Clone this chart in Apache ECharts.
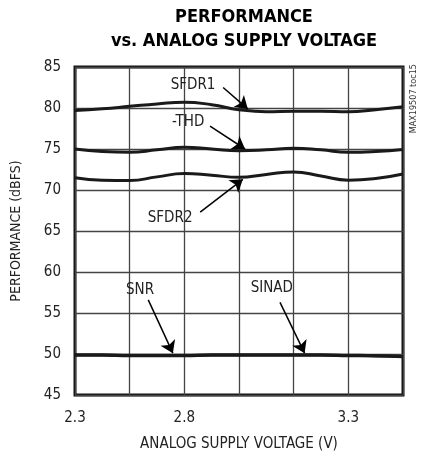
<!DOCTYPE html>
<html>
<head>
<meta charset="utf-8">
<script src="https://cdn.jsdelivr.net/npm/echarts@6/dist/echarts.min.js"></script>
<style>
  html, body { margin: 0; padding: 0; background: #fff; }
  #main { width: 427px; height: 458px; }
</style>
</head>
<body>
<div id="main"></div>
<script>
// x positions are in grid steps (0..6), labels only on some of them
let xPos = [0, 0.5, 1, 1.5, 2, 2.5, 3, 3.5, 4, 4.5, 5, 5.5, 6];
let xTickLabels = ['2.3', '', '2.8', '', '', '3.3', ''];
let yTicks = [45, 50, 55, 60, 65, 70, 75, 80, 85];

let sfdr1 = [79.7, 79.9, 80.2, 80.5, 80.7, 80.4, 79.8, 79.55, 79.6, 79.6, 79.55, 79.8, 80.15];
let thd   = [75.0, 74.7, 74.6, 74.9, 75.2, 75.0, 74.8, 74.9, 75.1, 74.9, 74.6, 74.7, 74.95];
let sfdr2 = [71.5, 71.2, 71.15, 71.6, 72.0, 71.8, 71.55, 71.9, 72.2, 71.7, 71.2, 71.4, 71.95];
let snr   = [49.9, 49.9, 49.85, 49.85, 49.85, 49.9, 49.9, 49.9, 49.9, 49.9, 49.85, 49.8, 49.7];
let sinad = [49.85, 49.85, 49.8, 49.8, 49.8, 49.85, 49.85, 49.85, 49.85, 49.85, 49.8, 49.75, 49.65];

let font = '"Liberation Sans Narrow", "DejaVu Sans Condensed", Arial, sans-serif';

function pairs(ys) {
    return xPos.map((x, i) => [x, ys[i]]);
}

// annotation: label position, arrow start, arrow tip (data coords)
function note(text, lx, ly, ax, ay, bx, by) {
    return {
        markPoint: {
            symbol: 'rect',
            symbolSize: 0,
            silent: true,
            label: { show: true, formatter: text, color: '#222', fontSize: 15, fontFamily: font, position: 'inside' },
            data: [{ coord: [lx, ly] }]
        },
        markLine: {
            silent: true,
            animation: false,
            symbol: ['none', 'arrow'],
            symbolSize: 12,
            lineStyle: { color: '#000', width: 1.5, type: 'solid' },
            itemStyle: { color: '#000' },
            label: { show: false },
            data: [[{ coord: [ax, ay] }, { coord: [bx, by] }]]
        }
    };
}

function line(name, ys, extra) {
    return Object.assign({
        name: name,
        type: 'line',
        smooth: 0.5,
        symbol: 'none',
        lineStyle: { color: '#1a1a1a', width: 3 },
        data: pairs(ys),
        z: 3
    }, extra || {});
}

let myChart = echarts.init(document.getElementById('main'));
let option = {
    animation: false,
    title: {
        text: 'PERFORMANCE\nvs. ANALOG SUPPLY VOLTAGE',
        left: 239,
        top: 0,
        textAlign: 'center',
        textStyle: { fontFamily: font, fontWeight: 'bold', fontSize: 18, lineHeight: 24, color: '#000' }
    },
    grid: {
        left: 75, right: 24, top: 67, bottom: 63,
        show: true, borderColor: '#111', borderWidth: 3
    },
    xAxis: {
        type: 'value',
        min: 0, max: 6, interval: 1,
        axisLine: { show: false },
        axisTick: { show: false },
        splitLine: { show: true, lineStyle: { color: '#444', width: 1.3 } },
        axisLabel: {
            color: '#222', fontSize: 15, fontFamily: font, margin: 16,
            formatter: v => xTickLabels[Math.round(v)] || ''
        },
        name: 'ANALOG SUPPLY VOLTAGE (V)',
        nameLocation: 'middle',
        nameGap: 42,
        nameTextStyle: { color: '#222', fontSize: 15, fontFamily: font }
    },
    yAxis: {
        type: 'value',
        min: yTicks[0], max: yTicks[yTicks.length - 1], interval: 5,
        axisLine: { show: false },
        axisTick: { show: false },
        splitLine: { show: true, lineStyle: { color: '#444', width: 1.3 } },
        axisLabel: { color: '#222', fontSize: 15, fontFamily: font, margin: 14 },
        name: 'PERFORMANCE (dBFS)',
        nameLocation: 'middle',
        nameGap: 52,
        nameTextStyle: { color: '#222', fontSize: 14, fontFamily: font }
    },
    graphic: [{
        type: 'text',
        left: 409,
        top: 64,
        rotation: Math.PI / 2,
        style: { text: 'MAX19507 toc15', fontSize: 9, fontFamily: font, fill: '#333' }
    }],
    series: [
        line('SFDR1', sfdr1, note('SFDR1', 2.16, 82.8, 2.71, 82.5, 3.16, 79.9)),
        line('-THD', thd, note('-THD', 2.07, 78.3, 2.47, 77.8, 3.11, 75.0)),
        line('SFDR2', sfdr2, note('SFDR2', 1.74, 66.6, 2.29, 67.3, 3.07, 71.3)),
        line('SNR', snr, note('SNR', 1.19, 57.8, 1.34, 56.6, 1.79, 50.1)),
        line('SINAD', sinad, note('SINAD', 3.6, 58.0, 3.75, 56.3, 4.2, 50.1))
    ]
};
myChart.setOption(option);
</script>
</body>
</html>
